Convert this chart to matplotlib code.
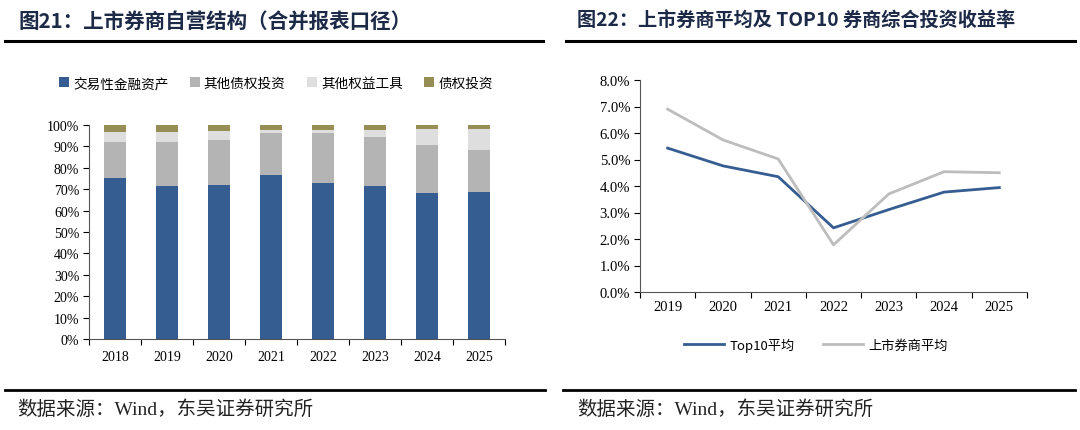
import matplotlib
matplotlib.use("Agg")
import matplotlib.pyplot as plt
import numpy as np
from matplotlib.lines import Line2D
from matplotlib.ticker import FuncFormatter

plt.rcParams['font.family'] = ['Noto Sans CJK SC', 'DejaVu Sans']

# 图21 data (share of proprietary assets, %)
years_l = ['2018', '2019', '2020', '2021', '2022', '2023', '2024', '2025']
trading = [75.4, 71.5, 71.9, 76.7, 72.9, 71.7, 68.4, 68.9]
other_debt = [16.7, 20.4, 21.1, 19.6, 23.2, 22.5, 22.4, 19.4]
other_equity = [4.5, 5.0, 4.4, 1.5, 1.4, 3.5, 7.2, 9.8]
debt_inv = [3.4, 3.1, 2.6, 2.2, 2.5, 2.3, 2.0, 1.9]
names_l = ['交易性金融资产', '其他债权投资', '其他权益工具', '债权投资']

# 图22 data (return, %)
years_r = ['2019', '2020', '2021', '2022', '2023', '2024', '2025']
top10 = [5.43, 4.76, 4.35, 2.42, 3.11, 3.77, 3.94]
listed_avg = [6.90, 5.74, 5.02, 1.78, 3.70, 4.54, 4.50]
names_r = ['Top10平均', '上市券商平均']

colors_l = ['#355d91', '#b4b4b4', '#dedede', '#968e55']
blue = '#355d91'
grey = '#bdbdbd'
title_c = '#1c2a48'
serif = ['Liberation Serif', 'DejaVu Serif']
mixed = ['Liberation Serif', 'Noto Sans CJK SC']

W, H = 1080, 431
fig = plt.figure(figsize=(W / 100, H / 100), dpi=100)


def box(x0, y0, x1, y1):
    return [x0 / W, 1 - y1 / H, (x1 - x0) / W, (y1 - y0) / H]


def hline(x0, x1, y, lw):
    fig.add_artist(Line2D([x0 / W, x1 / W], [1 - y / H, 1 - y / H], color='black', lw=lw))


# titles, rules, footers
fig.text(18 / W, 1 - 21 / H, '图21：上市券商自营结构（合并报表口径）', fontsize=14.8,
         fontweight='bold', color=title_c, va='center')
fig.text(577 / W, 1 - 21 / H, '图22：上市券商平均及 TOP10 券商综合投资收益率', fontsize=13.8,
         fontweight='bold', color=title_c, va='center')
hline(5, 543, 41.5, 2.2)
hline(566, 1075, 41.5, 2.2)
hline(5, 545, 391, 2.0)
hline(563, 1075, 391, 2.0)
for fx in (17, 577):
    fig.text(fx / W, 1 - 410 / H, '数据来源：Wind，东吴证券研究所', fontsize=14,
             family=mixed, color='#222222', va='center')

# left chart: stacked bars
ax = fig.add_axes(box(89, 126, 505, 340))
x = np.arange(len(years_l))
bottom = np.zeros(len(years_l))
handles = []
for vals, c, n in zip([trading, other_debt, other_equity, debt_inv], colors_l, names_l):
    v = np.array(vals) / 100
    b = ax.bar(x, v, 0.44, bottom=bottom, color=c, label=n)
    bottom += v
    handles.append(b)
ax.set_xlim(-0.5, len(years_l) - 0.5)
ax.set_ylim(0, 1.0)
ax.set_yticks(np.arange(0, 1.01, 0.1))
ax.yaxis.set_major_formatter(FuncFormatter(lambda v, p: f'{v * 100:.0f}%'))
ax.set_xticks(x)
ax.set_xticklabels(years_l)
ax.set_xticks(np.arange(-0.5, len(years_l)), minor=True)
ax.tick_params(axis='x', which='major', length=0, pad=8)
ax.tick_params(axis='x', which='minor', length=4, direction='out', width=0.8)
ax.tick_params(axis='y', length=4, direction='out', width=0.8, pad=3)
for s in ['top', 'right']:
    ax.spines[s].set_visible(False)
for s in ['left', 'bottom']:
    ax.spines[s].set_color('#555555')
for lab in ax.get_xticklabels() + ax.get_yticklabels():
    lab.set_family(serif)
    lab.set_fontsize(10)
fig.legend(handles=handles, loc='center', bbox_to_anchor=(276 / W, 1 - 84 / H), ncol=4,
           frameon=False, fontsize=9.8, handlelength=0.7, handleheight=0.7,
           handletextpad=0.3, columnspacing=1.6)

# right chart: lines
ax2 = fig.add_axes(box(640, 81, 1027, 293))
xr = np.arange(len(years_r))
l1, = ax2.plot(xr, top10, color=blue, lw=2.0, label=names_r[0])
l2, = ax2.plot(xr, listed_avg, color=grey, lw=2.0, label=names_r[1])
ax2.set_xlim(-0.5, len(years_r) - 0.5)
ax2.set_ylim(0, 8.0)
ax2.set_yticks(np.arange(0, 8.01, 1.0))
ax2.yaxis.set_major_formatter(FuncFormatter(lambda v, p: f'{v:.1f}%'))
ax2.set_xticks(xr)
ax2.set_xticklabels(years_r)
ax2.set_xticks(np.arange(-0.5, len(years_r)), minor=True)
ax2.tick_params(axis='x', which='major', length=0, pad=6)
ax2.tick_params(axis='x', which='minor', length=4, direction='out', width=0.8)
ax2.tick_params(axis='y', length=4, direction='out', width=0.8, pad=3)
for s in ['top', 'right']:
    ax2.spines[s].set_visible(False)
for s in ['left', 'bottom']:
    ax2.spines[s].set_color('#555555')
for lab in ax2.get_xticklabels() + ax2.get_yticklabels():
    lab.set_family(serif)
    lab.set_fontsize(10.5)
fig.legend(handles=[l1, l2], loc='center', bbox_to_anchor=(816 / W, 1 - 346 / H), ncol=2,
           frameon=False, fontsize=9.5, handlelength=3.0, handletextpad=0.4, columnspacing=2.2)

fig.savefig('out.png', dpi=100)
